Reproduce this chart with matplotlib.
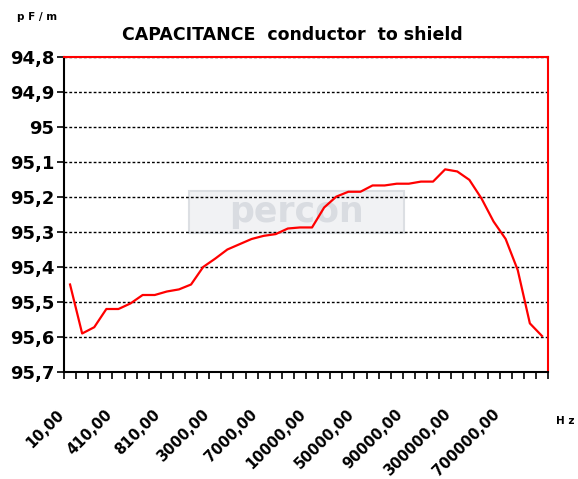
import matplotlib
matplotlib.use("Agg")
import matplotlib.pyplot as plt
from matplotlib.patches import Rectangle
import matplotlib.transforms as mtransforms
import numpy as np

plt.rcParams['font.family'] = ['DejaVu Sans']

title = "CAPACITANCE  conductor  to shield"
x_labels = ["10,00", "410,00", "810,00", "3000,00", "7000,00", "10000,00",
            "50000,00", "90000,00", "300000,00", "700000,00"]
label_step = 4
capacitance = [95.45, 95.59, 95.572, 95.52, 95.52, 95.504, 95.48, 95.48, 95.47, 95.464,
               95.45, 95.40, 95.376, 95.35, 95.335, 95.32, 95.311, 95.306, 95.29, 95.287,
               95.287, 95.23, 95.199, 95.185, 95.185, 95.167, 95.167, 95.162, 95.162, 95.156,
               95.156, 95.121, 95.127, 95.151, 95.204, 95.27, 95.32, 95.409, 95.561, 95.597]
y_ticks = [94.8, 94.9, 95.0, 95.1, 95.2, 95.3, 95.4, 95.5, 95.6, 95.7]
y_tick_labels = ["94,8", "94,9", "95", "95,1", "95,2", "95,3", "95,4", "95,5", "95,6", "95,7"]

fig = plt.figure(figsize=(5.78, 4.79), dpi=100)
ax = fig.add_axes([64/578, 1-372/479, (548-64)/578, (372-57)/479])

n = len(capacitance)
xs = np.arange(n)

# watermark
ax.add_patch(Rectangle((0.258, 0.44), 0.444, 0.135, transform=ax.transAxes,
                       facecolor="#f1f2f4", edgecolor="#dcdfe3", lw=1.5, zorder=0))
ax.text(0.48, 0.507, "percon", transform=ax.transAxes, fontsize=25, fontweight="bold",
        color="#d9dce1", ha="center", va="center", zorder=0.5)

for yv in y_ticks:
    ax.axhline(yv, color="black", lw=1.0, ls=(0, (2, 1.5)), zorder=1)

ax.plot(xs, capacitance, color="#ff0000", lw=1.6, zorder=3)

ax.set_xlim(-0.5, n - 0.5)
ax.set_ylim(95.7, 94.8)
ax.set_yticks(y_ticks)
ax.set_yticklabels(y_tick_labels, fontsize=13, fontweight="bold")

ax.set_xticks(np.arange(-0.5, n, 1.0), minor=False)
ax.set_xticklabels([])
ax.set_xticks(xs[::label_step], minor=True)
ax.set_xticklabels(x_labels, minor=True, rotation=45, ha="right", va="top",
                   rotation_mode="anchor", fontsize=10.5, fontweight="bold")
ax.tick_params(axis="x", which="major", direction="out", length=5, width=1.2, color="black")
ax.tick_params(axis="x", which="minor", length=0, pad=25)
ax.tick_params(axis="y", direction="out", length=5, width=1.2, color="black", pad=2)
shift = mtransforms.ScaledTranslation(-14/100, 0, fig.dpi_scale_trans)
for lbl in ax.get_xticklabels(minor=True):
    lbl.set_transform(lbl.get_transform() + shift)

for s in ["top", "right"]:
    ax.spines[s].set_color("#ff0000")
    ax.spines[s].set_linewidth(1.5)
for s in ["left", "bottom"]:
    ax.spines[s].set_color("black")
    ax.spines[s].set_linewidth(1.5)

fig.text(292/578, 1-35/479, title, fontsize=12.5, fontweight="bold", ha="center", va="center")
fig.text(17/578, 1-17/479, "p F / m", fontsize=7.5, fontweight="bold", ha="left", va="center")
fig.text(556/578, 1-421/479, "H z", fontsize=7.5, fontweight="bold", ha="left", va="center")

fig.savefig("out.png", dpi=100)
